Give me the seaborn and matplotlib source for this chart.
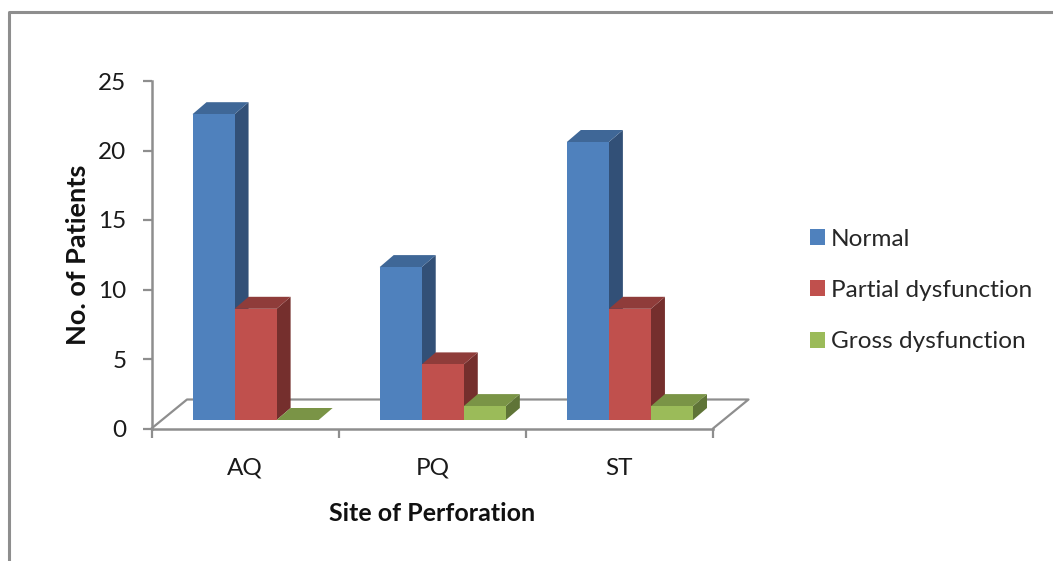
#!/usr/bin/env python
# coding: utf-8
import pandas as pd
import matplotlib.pyplot as plt
import seaborn as sns
from matplotlib.lines import Line2D
from matplotlib.patches import Polygon

sites = ["AQ", "PQ", "ST"]
normal = [22, 11, 20]
partial = [8, 4, 8]
gross = [0, 1, 1]
groups = ["Normal", "Partial dysfunction", "Gross dysfunction"]
yticks = [0, 5, 10, 15, 20, 25]

front = ["#4F81BD", "#C0504D", "#9BBB59"]
top = ["#3F6797", "#8F3C3A", "#7A9446"]
side = ["#325077", "#752F2D", "#5F7437"]
GREY = "#8E8E8E"

W, H = 1053, 561
X0, X1, Y0, Y1 = 151.5, 713, 428.5, 81
PX_X = 3 / (X1 - X0)  # data units per pixel
PX_Y = 25 / (Y0 - Y1)

sns.set_theme(style="white")
plt.rcParams['font.family'] = ['Lato', 'DejaVu Sans']

df = pd.DataFrame({
    "site": sites * 3,
    "group": [groups[0]] * 3 + [groups[1]] * 3 + [groups[2]] * 3,
    "count": normal + partial + gross,
})

fig = plt.figure(figsize=(W / 100, H / 100), dpi=100)
ax = fig.add_axes([X0 / W, 1 - Y0 / H, (X1 - X0) / W, (Y0 - Y1) / H])
sns.barplot(data=df, x="site", y="count", hue="group", hue_order=groups,
            palette=front, saturation=1, width=0.674, gap=0, ax=ax, linewidth=0)
ax.set_xlim(-0.5, 2.5)
ax.set_ylim(0, 25)
ax.set_yticks(yticks)

# Fake 3D: shift the bars on to the floor and add top and side faces
depthX, depthY = 14 * PX_X, 12 * PX_Y
shiftX, baseY = 10.5 * PX_X, 8.5 * PX_Y
z = 5
for catIdx in range(len(sites)):
    for i, container in enumerate(ax.containers):
        bar = container.patches[catIdx]
        bar.set_x(bar.get_x() + shiftX)
        bar.set_y(baseY)
        x0, x1 = bar.get_x(), bar.get_x() + bar.get_width()
        y0, y1 = baseY, baseY + bar.get_height()
        ax.add_patch(Polygon([(x1, y0), (x1 + depthX, y0 + depthY), (x1 + depthX, y1 + depthY), (x1, y1)],
                             fc=side[i], ec="none", zorder=z, clip_on=False))
        ax.add_patch(Polygon([(x0, y1), (x1, y1), (x1 + depthX, y1 + depthY), (x0 + depthX, y1 + depthY)],
                             fc=top[i], ec="none", zorder=z + 1, clip_on=False))
        bar.set_zorder(z + 2)
        z += 3

# Floor of the 3D box
floorX, floorY = 35.5 * PX_X, 29 * PX_Y
ax.plot([-0.5, -0.5 + floorX, 2.5 + floorX, 2.5], [0, floorY, floorY, 0],
        color=GREY, lw=1.6, clip_on=False, zorder=2)

sns.despine(ax=ax, top=True, right=True)
for s in ["left", "bottom"]:
    ax.spines[s].set_color(GREY)
    ax.spines[s].set_linewidth(1.8)
ax.set_xticks([-0.5, 0.5, 1.5, 2.5], minor=True)
ax.tick_params(axis="x", which="minor", bottom=True, length=6.5, width=1.6, color=GREY)
ax.tick_params(axis="x", which="major", bottom=False, labelsize=17.5, pad=15, labelcolor="#1a1a1a")
ax.tick_params(axis="y", left=True, length=6.5, width=1.6, color=GREY, labelsize=17.5, pad=11.5, labelcolor="#1a1a1a")

ax.set_xlabel("Site of Perforation", fontsize=18, fontweight="bold", labelpad=17, color="#111111")
ax.set_ylabel("No. of Patients", fontsize=19.5, fontweight="bold", labelpad=6, color="#111111")

sns.move_legend(ax, "center left", bbox_to_anchor=(810 / W, 1 - 290.5 / H),
                bbox_transform=fig.transFigure, title=None, frameon=False,
                fontsize=17.6, labelspacing=1.24, handlelength=0.62, handleheight=0.62,
                handletextpad=0.24, borderpad=0, borderaxespad=0)

# Grey frame round the picture, only top and left show
fig.add_artist(Line2D([8.5 / W, 8.5 / W, 1], [0, 1 - 11.5 / H, 1 - 11.5 / H], color=GREY, lw=2.2))

fig.savefig("out.png", dpi=100)
